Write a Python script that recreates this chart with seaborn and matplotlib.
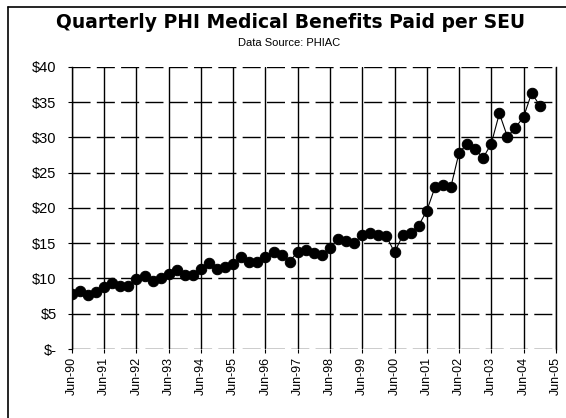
import matplotlib.pyplot as plt
from matplotlib.lines import Line2D
import seaborn as sns
import pandas as pd

# quarterly benefits paid per SEU, Jun-90 to Dec-04
benefits = [7.8, 8.2, 7.6, 8.1, 8.8, 9.3, 8.9, 8.9,
            9.9, 10.4, 9.7, 10.0, 10.6, 11.2, 10.5, 10.5,
            11.3, 12.2, 11.4, 11.7, 12.0, 13.0, 12.3, 12.3,
            13.0, 13.8, 13.3, 12.4, 13.8, 14.0, 13.6, 13.3,
            14.3, 15.6, 15.3, 15.0, 16.2, 16.4, 16.2, 16.0,
            13.7, 16.1, 16.4, 17.5, 19.6, 22.9, 23.2, 23.0,
            27.8, 29.1, 28.3, 27.1, 29.1, 33.4, 30.1, 31.4,
            32.9, 36.3, 34.5]
first_quarter = '1990-06-01'
tick_years = pd.date_range('1990-06-01', '2005-06-01', freq='12MS')
y_ticks = [0, 5, 10, 15, 20, 25, 30, 35, 40]
y_labels = ['$-', '$5', '$10', '$15', '$20', '$25', '$30', '$35', '$40']

df = pd.DataFrame({
    'quarter': pd.date_range(first_quarter, periods=len(benefits), freq='3MS'),
    'benefit': benefits,
})

sns.set_style('white')
plt.rcParams['font.family'] = ['Liberation Sans', 'DejaVu Sans']
plt.rcParams['text.color'] = 'black'
plt.rcParams['xtick.color'] = 'black'
plt.rcParams['ytick.color'] = 'black'

fig = plt.figure(figsize=(5.66, 4.18), dpi=100)
ax = fig.add_axes([0.127, 0.165, 0.855, 0.675])

sns.lineplot(data=df, x='quarter', y='benefit', ax=ax, color='black',
             linewidth=0.8, marker='o', markersize=7.5, markeredgecolor='black',
             markerfacecolor='black', zorder=3)

ax.set_xlim(tick_years[0], tick_years[-1])
ax.set_ylim(0, 40)
ax.set_xticks(tick_years)
ax.set_xticklabels([d.strftime('%b-%y') for d in tick_years], rotation=90,
                   fontsize=9)
ax.set_yticks(y_ticks)
ax.set_yticklabels(y_labels, fontsize=10.5)
ax.set_xlabel('')
ax.set_ylabel('')

# vertical solid grid at each June, dashed horizontal grid
for d in tick_years:
    ax.axvline(d, color='black', linewidth=1, zorder=1)
for v in y_ticks:
    ax.axhline(v, color='black', linewidth=1, dashes=(13, 4.5), zorder=1)

ax.spines[['top', 'bottom']].set_visible(False)
ax.spines[['left', 'right']].set_color('black')
ax.spines[['left', 'right']].set_linewidth(1)
ax.tick_params(axis='x', bottom=True, length=3, color='black', pad=3)
ax.tick_params(axis='y', left=True, length=3, color='black', pad=8)

fig.text(0.513, 0.945, 'Quarterly PHI Medical Benefits Paid per SEU',
         ha='center', va='center', fontsize=13.5, fontweight='bold',
         family='DejaVu Sans', color='black')
fig.text(0.51, 0.898, 'Data Source: PHIAC', ha='center', va='center',
         fontsize=8, color='black')

# outer chart frame (left and top edges visible in the scan)
fig.add_artist(Line2D([8 / 566, 8 / 566], [0, 1 - 7 / 418], color='black',
                      linewidth=1.2, transform=fig.transFigure))
fig.add_artist(Line2D([8 / 566, 1], [1 - 7 / 418, 1 - 7 / 418], color='black',
                      linewidth=1.2, transform=fig.transFigure))

fig.savefig('out.png', dpi=100)
